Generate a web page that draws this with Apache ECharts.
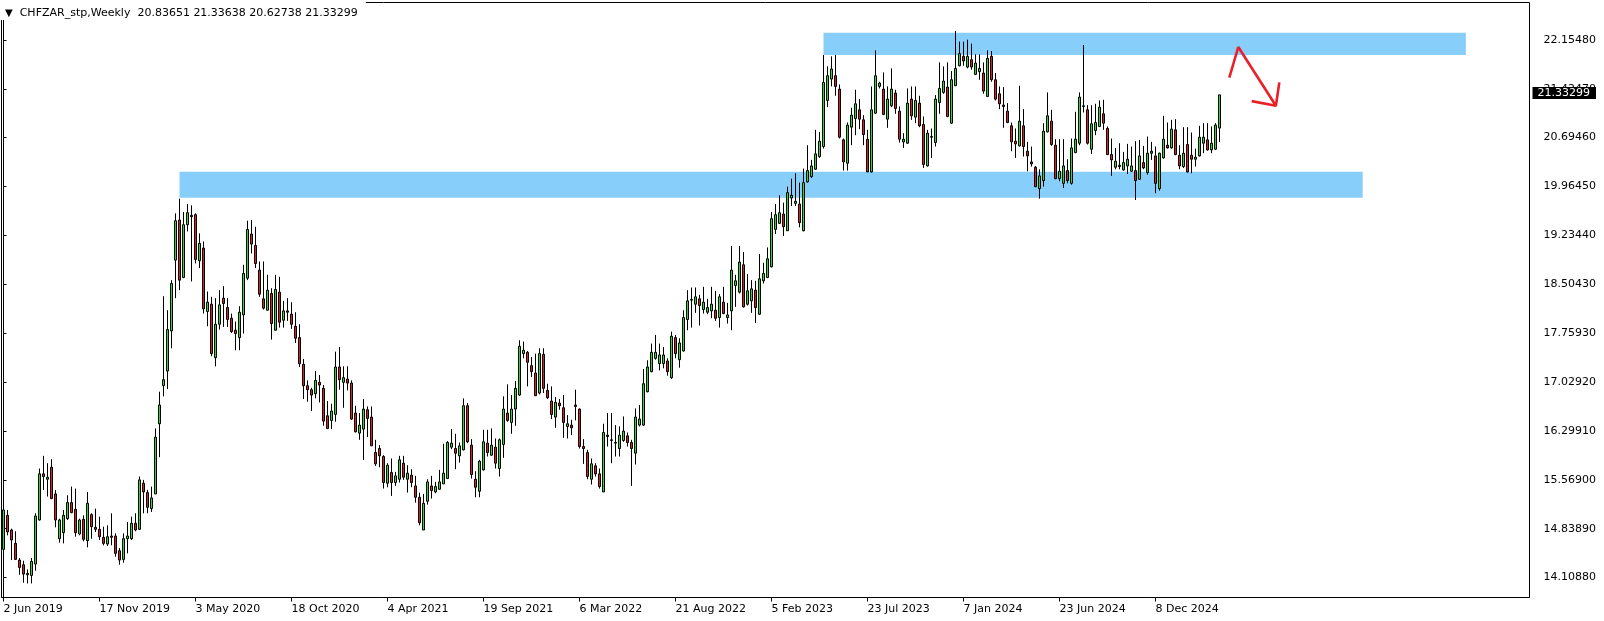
<!DOCTYPE html>
<html>
<head>
<meta charset="utf-8">
<script src="https://cdn.jsdelivr.net/npm/echarts@6/dist/echarts.min.js"></script>
<style>
html,body{margin:0;padding:0;background:#fff;}
#chart{width:1604px;height:621px;}
</style>
</head>
<body>
<div id="chart"></div>
<script>
const titleText = 'CHFZAR_stp,Weekly  20.83651 21.33638 20.62738 21.33299';
const lastPrice = 21.33299;
const xTickLabels = ['2 Jun 2019','17 Nov 2019','3 May 2020','18 Oct 2020','4 Apr 2021','19 Sep 2021','6 Mar 2022','21 Aug 2022','5 Feb 2023','23 Jul 2023','7 Jan 2024','23 Jun 2024','8 Dec 2024'];
const xTickEvery = 24;
const slotCount = 382;
const yTickLabels = ['14.10880','14.83890','15.56900','16.29910','17.02920','17.75930','18.50430','19.23440','19.96450','20.69460','21.42470','22.15480'];

const opens = [
14.53,15.04,14.82,14.62,14.37,14.30,14.17,14.14,14.31,14.97,
15.66,15.58,15.76,15.36,14.69,14.78,14.99,15.23,15.13,14.76,
14.98,14.66,15.05,14.86,14.83,14.71,14.61,14.73,14.73,14.51,
14.38,14.69,14.69,14.92,14.83,15.52,15.38,15.14,15.36,16.41,
16.98,17.20,17.80,18.86,19.46,18.60,19.39,19.53,19.54,18.85,
19.04,18.09,18.20,17.40,17.90,18.29,18.15,17.99,17.81,17.70,
18.04,18.59,19.25,19.08,18.71,18.28,18.11,18.36,17.81,18.38,
17.96,18.10,18.05,17.87,17.70,17.30,16.98,16.92,16.86,17.03,
16.94,16.53,16.46,16.55,17.26,17.03,17.08,17.02,16.57,16.27,
16.33,16.62,16.51,15.98,16.04,15.92,15.52,15.68,15.53,15.58,
15.82,15.58,15.64,15.48,15.31,14.82,15.25,15.48,15.39,15.43,
15.51,15.59,16.06,16.04,15.93,16.02,16.68,16.09,15.58,15.40,
15.72,16.12,15.94,16.06,15.74,16.10,16.57,16.43,16.63,16.84,
17.46,17.48,17.28,17.17,16.87,17.45,16.91,16.75,16.51,16.72,
16.65,16.37,16.39,16.69,16.63,16.07,15.98,15.58,15.78,15.66,
15.39,16.24,16.17,16.13,16.04,16.16,16.23,16.13,15.97,16.39,
16.39,16.89,17.19,17.39,17.31,17.31,17.35,17.10,17.70,17.37,
17.50,17.97,18.26,18.20,18.28,18.12,18.08,18.10,18.11,18.00,
18.23,18.00,18.10,18.48,18.38,18.79,18.20,18.25,18.41,18.05,
18.55,18.60,18.76,19.32,19.41,19.55,19.30,19.79,19.71,19.70,
19.30,20.03,20.11,20.22,20.41,20.56,21.25,21.57,21.62,21.42,
20.66,20.31,20.85,20.98,21.11,20.96,20.67,20.18,21.06,21.46,
21.42,20.97,21.17,21.36,21.09,20.63,20.61,21.27,21.00,21.21,
20.89,20.27,20.71,20.62,21.22,21.37,21.45,20.91,21.47,21.77,
21.91,21.75,21.86,21.64,21.68,21.66,21.31,21.91,21.56,21.35,
21.18,21.09,20.87,20.64,20.57,20.87,20.49,20.33,20.25,19.93,
20.05,20.78,20.94,20.58,20.08,20.01,20.20,20.01,20.47,20.61,
21.16,21.11,20.52,20.80,20.86,21.05,20.83,20.44,20.25,20.28,
20.21,20.27,20.19,20.20,20.07,20.32,20.17,20.46,20.42,19.93,
20.39,20.58,20.54,20.81,20.43,20.26,20.59,20.43,20.37,20.42,
20.61,20.66,20.51,20.52,20.83651];

const highs = [
15.27,15.12,14.84,14.80,14.40,14.36,14.23,14.40,15.07,15.74,
15.93,15.82,15.88,15.42,14.99,15.12,15.34,15.47,15.44,14.99,
15.04,15.39,15.07,15.14,15.02,14.87,14.89,15.07,14.77,14.55,
14.77,14.94,15.02,15.07,15.62,15.57,15.42,15.47,16.34,16.89,
18.32,18.11,18.56,19.56,19.78,19.58,19.70,19.68,19.56,19.26,
19.14,18.39,18.31,18.29,18.41,18.47,18.29,18.06,17.94,18.17,
18.79,19.45,19.46,19.36,18.84,18.84,18.64,18.44,18.64,18.61,
18.25,18.29,18.23,18.08,17.90,17.38,17.06,16.95,17.20,17.14,
16.99,16.75,16.71,17.49,17.56,17.27,17.27,17.06,16.68,16.57,
16.78,16.67,16.67,16.17,16.09,15.94,15.82,15.89,15.69,15.93,
15.93,15.79,15.73,15.63,15.38,15.36,15.58,15.63,15.54,15.72,
16.11,16.15,16.33,16.26,16.13,16.79,16.72,16.18,15.70,15.87,
16.32,16.32,16.34,16.19,16.19,16.82,17.00,16.84,17.05,17.66,
17.64,17.50,17.41,17.46,17.54,17.54,17.01,16.97,16.81,16.78,
16.84,16.54,16.47,16.92,16.64,16.18,16.02,15.89,15.82,15.74,
16.41,16.57,16.57,16.39,16.37,16.52,16.28,16.17,16.64,16.69,
17.23,17.36,17.61,17.74,17.61,17.56,17.39,17.79,17.74,17.69,
18.11,18.41,18.45,18.45,18.34,18.46,18.28,18.46,18.40,18.35,
18.46,18.22,19.07,18.64,19.07,18.98,18.65,18.56,18.55,18.95,
18.82,19.05,19.58,19.70,19.83,19.72,19.96,20.08,20.16,20.02,
20.23,20.58,20.36,20.81,20.78,21.93,21.76,21.91,21.93,21.49,
20.68,20.92,21.14,21.41,21.27,21.03,20.81,21.46,22.00,21.53,
21.67,21.46,21.73,21.41,21.16,20.76,21.43,21.46,21.46,21.32,
21.01,20.81,20.83,21.33,21.82,21.76,21.82,21.69,22.29,22.13,
22.13,22.16,22.10,21.94,21.94,21.82,22.00,21.99,21.66,21.46,
21.45,21.21,20.92,20.83,21.47,21.12,20.63,20.56,20.27,20.22,
20.91,21.37,21.11,20.67,20.67,20.67,20.37,20.68,21.08,21.37,
22.08,21.18,21.18,21.20,21.25,21.26,20.86,20.68,20.54,20.61,
20.48,20.60,20.56,20.64,20.66,20.57,20.71,20.63,20.56,20.47,
21.02,20.92,20.96,20.97,20.58,20.85,20.85,20.77,20.53,20.87,
20.91,20.91,20.86,20.91,21.33638];

const lows = [
14.45,14.74,14.37,14.37,14.15,14.03,14.02,14.02,14.21,14.96,
15.42,15.32,15.28,14.86,14.63,14.62,14.97,15.07,14.72,14.74,
14.65,14.56,14.69,14.79,14.67,14.59,14.58,14.59,14.42,14.30,
14.33,14.47,14.67,14.80,14.82,15.07,15.07,15.09,15.36,15.91,
16.82,16.93,17.54,18.29,18.41,18.59,19.29,18.54,18.81,18.74,
18.06,17.87,17.42,17.27,17.82,17.86,17.86,17.77,17.51,17.51,
17.76,18.56,18.96,18.74,18.31,18.12,18.11,17.67,17.81,17.85,
17.85,17.95,17.83,17.62,17.26,16.78,16.74,16.60,16.79,16.73,
16.38,16.33,16.33,16.44,16.92,16.65,16.91,16.47,16.28,16.17,
15.87,16.21,16.08,15.78,15.76,15.44,15.46,15.33,15.48,15.53,
15.57,15.38,15.46,15.23,14.89,14.82,15.20,15.29,15.37,15.42,
15.51,15.59,16.03,15.73,15.83,16.01,16.12,15.59,15.31,15.31,
15.71,15.92,15.93,15.74,15.62,15.90,16.44,16.26,16.38,16.83,
17.39,16.97,17.11,16.83,16.85,16.87,16.78,16.48,16.35,16.62,
16.20,16.19,16.24,16.46,16.04,15.81,15.58,15.50,15.62,15.44,
15.39,16.07,15.82,15.92,15.92,16.14,16.07,15.48,15.80,16.37,
16.38,16.88,17.18,17.37,17.21,17.24,17.13,17.08,17.39,17.25,
17.49,17.81,17.85,18.07,17.88,18.06,18.05,17.99,17.95,17.85,
18.05,17.91,17.81,18.16,18.36,18.15,18.18,18.07,17.92,18.04,
18.51,18.59,18.75,19.25,19.40,19.22,19.30,19.67,19.67,19.35,
19.29,20.02,20.09,20.21,20.39,20.53,21.15,21.46,21.32,20.68,
20.20,20.20,20.58,20.73,20.82,20.58,20.18,20.17,21.05,21.43,
21.03,20.84,21.15,21.05,20.62,20.54,20.60,20.96,20.91,20.85,
20.24,20.26,20.39,20.56,21.05,21.35,21.00,20.90,21.47,21.76,
21.77,21.73,21.71,21.63,21.56,21.35,21.30,21.53,21.25,21.12,
20.84,20.91,20.49,20.39,20.56,20.41,20.19,20.26,19.95,19.78,
19.96,20.77,20.57,20.07,20.04,19.94,20.01,19.99,20.46,20.58,
21.07,20.59,20.45,20.73,20.85,20.81,20.43,20.12,20.22,20.22,
20.20,20.15,20.18,19.76,20.06,20.22,20.14,20.36,19.86,19.90,
20.38,20.53,20.53,20.43,20.22,20.24,20.17,20.16,20.26,20.41,
20.46,20.50,20.46,20.51,20.62738];

const closes = [
15.12,14.79,14.67,14.38,14.26,14.16,14.15,14.35,15.03,15.66,
15.62,15.61,15.29,14.97,14.97,15.04,15.23,15.08,14.78,14.97,
14.68,15.22,14.87,14.83,14.72,14.62,14.72,14.71,14.47,14.37,
14.69,14.73,14.92,14.82,15.57,15.39,15.16,15.30,16.21,16.69,
17.07,17.82,18.51,19.45,18.56,19.39,19.57,19.51,18.87,19.11,
18.13,18.23,17.46,17.90,18.19,18.21,17.97,17.79,17.76,18.08,
18.66,19.32,19.10,18.81,18.35,18.14,18.41,17.91,18.42,17.93,
18.10,18.08,17.90,17.69,17.31,16.98,16.92,16.84,17.06,16.99,
16.45,16.34,16.60,17.26,17.07,17.10,17.02,16.48,16.29,16.39,
16.63,16.49,16.08,15.81,15.93,15.53,15.79,15.53,15.63,15.87,
15.61,15.67,15.53,15.31,14.93,15.22,15.54,15.41,15.47,15.54,
15.67,16.13,16.12,15.97,16.08,16.68,16.14,15.65,15.46,15.85,
16.14,15.98,16.09,15.82,16.17,16.63,16.46,16.63,16.94,17.57,
17.51,17.33,17.19,16.83,17.46,16.94,16.80,16.55,16.73,16.68,
16.43,16.41,16.35,16.67,16.07,16.04,15.62,15.81,15.66,15.47,
16.28,16.22,16.16,16.12,16.24,16.30,16.13,16.04,16.51,16.48,
17.01,17.26,17.48,17.48,17.44,17.44,17.19,17.72,17.46,17.62,
18.00,18.25,18.27,18.31,18.18,18.23,18.15,18.20,17.99,18.31,
18.06,18.04,18.71,18.55,18.83,18.16,18.40,18.43,18.15,18.58,
18.66,18.88,19.48,19.54,19.57,19.36,19.87,19.83,19.74,19.42,
20.02,20.20,20.27,20.45,20.64,21.52,21.62,21.72,21.46,20.70,
20.33,20.88,21.03,21.20,20.97,20.74,20.18,21.11,21.62,21.51,
21.04,21.27,21.42,21.13,20.67,20.67,21.21,21.02,21.25,20.87,
20.29,20.76,20.70,21.27,21.43,21.54,21.01,21.56,21.73,21.95,
21.84,21.91,21.75,21.81,21.73,21.39,21.88,21.56,21.27,21.20,
21.16,20.92,20.63,20.60,20.94,20.56,20.42,20.30,19.96,20.12,
20.79,21.02,20.59,20.08,20.19,20.27,20.05,20.54,20.67,21.30,
21.17,20.61,20.90,20.92,21.15,20.91,20.44,20.36,20.34,20.26,
20.32,20.37,20.27,20.05,20.42,20.24,20.46,20.49,20.01,20.46,
20.67,20.54,20.82,20.44,20.27,20.46,20.18,20.37,20.40,20.70,
20.70,20.51,20.61,20.88,21.33299];

// zone rectangles: [startIndex, endIndex, topPrice, bottomPrice]
const upperZone = [205, 365.6, 22.2646, 21.9302];
const lowerZone = [44, 339.8, 20.184, 19.794];
// hand-drawn arrow (index, price)
const arrowPath = [[306.45, 21.59], [308.7, 22.05], [318.1, 21.17]];
const arrowHead = [[312.05, 21.24], [318.1, 21.17], [318.95, 21.52]];

const categories = [];
for (let i = 0; i < slotCount; i++) categories.push(String(i));
const candles = opens.map((o, i) => [o, closes[i], lows[i], highs[i]]);
const yTickValues = yTickLabels.map(Number);

const FONT = 'DejaVu Sans';
const isTick = (idx) => idx % xTickEvery === 0 && idx / xTickEvery < xTickLabels.length;

const chart = echarts.init(document.getElementById('chart'), null, {renderer: 'canvas'});
chart.setOption({
  animation: false,
  backgroundColor: '#fff',
  title: {
    left: 0, top: 0,
    padding: [7, 8, 1, 5],
    backgroundColor: '#fff',
    text: '{a|▼}{b|' + titleText + '}',
    textStyle: {
      fontWeight: 'normal',
      rich: {
        a: {fontFamily: FONT, fontSize: 10, fontWeight: 'normal', color: '#000', lineHeight: 13, padding: [0, 7, 0, 0]},
        b: {fontFamily: FONT, fontSize: 11, fontWeight: 'normal', color: '#000', lineHeight: 13}
      }
    }
  },
  grid: {left: 1.5, top: 2.5, width: 1528, height: 595, show: true, borderColor: '#000', borderWidth: 1, backgroundColor: 'transparent'},
  xAxis: [{
    type: 'category',
    data: categories,
    boundaryGap: true,
    axisLine: {show: true, lineStyle: {color: '#000', width: 1}},
    axisTick: {show: true, alignWithLabel: true, interval: (idx) => isTick(idx), length: 4, lineStyle: {color: '#000'}},
    axisLabel: {
      interval: (idx) => isTick(idx),
      formatter: (v, idx) => isTick(idx) ? xTickLabels[idx / xTickEvery] : '',
      align: 'left', margin: 6, fontFamily: FONT, fontSize: 11, color: '#000'
    },
    splitLine: {show: false}
  }, {
    type: 'value', min: -0.5, max: slotCount - 0.5, show: false
  }],
  yAxis: {
    type: 'value',
    position: 'right',
    min: 13.8094, max: 22.7162,
    scale: true,
    axisLine: {show: true, lineStyle: {color: '#000', width: 1}},
    axisTick: {show: true, length: 3, customValues: yTickValues, lineStyle: {color: '#000'}},
    axisLabel: {
      customValues: yTickValues,
      formatter: (v) => v.toFixed(5),
      margin: 14, fontFamily: FONT, fontSize: 11, color: '#000'
    },
    splitLine: {show: false}
  },
  series: [{
    type: 'line',
    xAxisIndex: 1,
    data: [],
    z: 1,
    silent: true,
    markArea: {
      silent: true,
      itemStyle: {color: '#87cefa', opacity: 1},
      data: [
        [{coord: [upperZone[0], upperZone[2]]}, {coord: [upperZone[1], upperZone[3]]}],
        [{coord: [lowerZone[0], lowerZone[2]]}, {coord: [lowerZone[1], lowerZone[3]]}]
      ]
    }
  }, {
    type: 'candlestick',
    xAxisIndex: 0,
    z: 3,
    barWidth: 2,
    data: candles,
    itemStyle: {
      color: '#22e022', color0: '#e01c1c',
      borderColor: '#000', borderColor0: '#000', borderColorDoji: '#000',
      borderWidth: 1
    }
  }, {
    type: 'line', xAxisIndex: 1, z: 5, data: arrowPath, symbol: 'none', silent: true,
    lineStyle: {color: '#e8202a', width: 2.6},
    markLine: {
      silent: true,
      symbol: ['none', 'none'],
      lineStyle: {color: 'rgba(0,0,0,0)', opacity: 1, width: 1, type: 'solid'},
      data: [[{coord: [-0.5, lastPrice]}, {coord: [slotCount - 0.5, lastPrice]}]],
      label: {
        show: true, position: 'end', distance: 3, opacity: 1,
        formatter: () => lastPrice.toFixed(5),
        backgroundColor: '#000', color: '#fff',
        fontFamily: FONT, fontSize: 11, lineHeight: 11,
        padding: [1, 6, 0, 5], offset: [0, -2]
      }
    }
  }, {
    type: 'line', xAxisIndex: 1, z: 5, data: arrowHead, symbol: 'none', silent: true,
    lineStyle: {color: '#e8202a', width: 2.6}
  }]
});
</script>
</body>
</html>
